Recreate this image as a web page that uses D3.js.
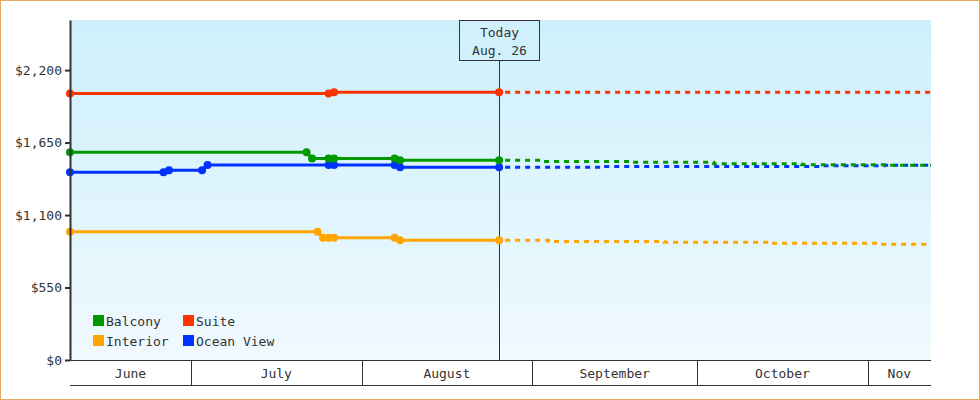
<!DOCTYPE html>
<html>
<head>
<meta charset="utf-8">
<script src="https://cdn.jsdelivr.net/npm/d3@7"></script>
<style>
  body { margin: 0; background: #fff; }
  text { font-family: "DejaVu Sans Mono", monospace; font-size: 13px; fill: #333; }
</style>
</head>
<body>
<div id="chart"></div>
<script>
// chart values
const seriesNames = ['Balcony', 'Suite', 'Interior', 'Ocean View'];
const seriesColors = ['#009900', '#ff3300', '#ffa500', '#0033ff'];

const balconyDates = ['2015-06-09', '2015-07-22', '2015-07-23', '2015-07-26', '2015-07-27', '2015-08-07', '2015-08-08', '2015-08-26'];
const balconyPrices = [1576, 1576, 1529, 1529, 1529, 1529, 1515, 1515];
const suiteDates = ['2015-06-09', '2015-07-26', '2015-07-27', '2015-08-26'];
const suitePrices = [2023, 2023, 2031, 2031];
const interiorDates = ['2015-06-09', '2015-07-24', '2015-07-25', '2015-07-26', '2015-07-27', '2015-08-07', '2015-08-08', '2015-08-26'];
const interiorPrices = [973, 973, 928, 928, 928, 928, 908, 908];
const oceanDates = ['2015-06-09', '2015-06-26', '2015-06-27', '2015-07-03', '2015-07-04', '2015-07-26', '2015-07-27', '2015-08-07', '2015-08-08', '2015-08-26'];
const oceanPrices = [1424, 1424, 1439, 1439, 1479, 1479, 1479, 1479, 1462, 1462];

// projected prices after today (dashed)
const balconyFcDates = ['2015-08-26', '2015-09-03', '2015-09-19', '2015-10-04', '2015-10-20', '2015-11-05', '2015-11-12T12:00'];
const balconyFcPrices = [1515, 1507, 1500, 1489, 1482, 1477, 1477];
const suiteFcDates = ['2015-08-26', '2015-11-12T12:00'];
const suiteFcPrices = [2031, 2031];
const interiorFcDates = ['2015-08-26', '2015-09-04', '2015-09-25', '2015-10-14', '2015-11-03', '2015-11-12T12:00'];
const interiorFcPrices = [908, 900, 893, 885, 878, 878];
const oceanFcDates = ['2015-08-26', '2015-09-14', '2015-10-24', '2015-11-04', '2015-11-12T12:00'];
const oceanFcPrices = [1462, 1469, 1474, 1477, 1477];

const yTicks = [0, 550, 1100, 1650, 2200];
const monthLabels = ['June', 'July', 'August', 'September', 'October', 'Nov'];
const todayDate = '2015-08-26';
const todayLabel = ['Today', 'Aug. 26'];
const xStart = '2015-06-09';
const xEnd = '2015-11-12T12:00';
const yMax = 2580;

// frame
const WIDTH = 980, HEIGHT = 400;
const MARGINS = {left: 70, right: 49, top: 20, bottom: 40};
const PLOT_RIGHT = WIDTH - MARGINS.right;
const PLOT_BOTTOM = HEIGHT - MARGINS.bottom;

const parse = d3.isoParse;
const zip = (dates, vals) => dates.map((d, i) => ({date: parse(d), value: vals[i]}));

const actual = [
  zip(balconyDates, balconyPrices),
  zip(suiteDates, suitePrices),
  zip(interiorDates, interiorPrices),
  zip(oceanDates, oceanPrices)
];
const forecast = [
  zip(balconyFcDates, balconyFcPrices),
  zip(suiteFcDates, suiteFcPrices),
  zip(interiorFcDates, interiorFcPrices),
  zip(oceanFcDates, oceanFcPrices)
];

const x = d3.scaleTime().domain([parse(xStart), parse(xEnd)]).range([MARGINS.left, PLOT_RIGHT]);
const y = d3.scaleLinear().domain([0, yMax]).range([PLOT_BOTTOM, MARGINS.top]);

const svg = d3.select('#chart').append('svg')
  .attr('width', WIDTH)
  .attr('height', HEIGHT);

// gradient for plot area
const grad = svg.append('defs').append('linearGradient')
  .attr('id', 'bg').attr('x1', 0).attr('y1', 0).attr('x2', 0).attr('y2', 1);
grad.append('stop').attr('offset', '0%').attr('stop-color', '#cdf0fc');
grad.append('stop').attr('offset', '100%').attr('stop-color', '#f0f9fe');

svg.append('rect')
  .attr('x', MARGINS.left).attr('y', MARGINS.top)
  .attr('width', PLOT_RIGHT - MARGINS.left).attr('height', PLOT_BOTTOM - MARGINS.top)
  .attr('fill', 'url(#bg)');

// outer border
svg.append('rect')
  .attr('x', 0.5).attr('y', 0.5)
  .attr('width', WIDTH - 1).attr('height', HEIGHT - 1)
  .attr('fill', 'none').attr('stroke', '#e8a862');

// today marker line
const tx = Math.round(x(parse(todayDate))) + 0.5;
svg.append('line')
  .attr('x1', tx).attr('x2', tx)
  .attr('y1', MARGINS.top + 40).attr('y2', PLOT_BOTTOM)
  .attr('stroke', '#333').attr('stroke-width', 1);

// series lines
const line = d3.line().x(d => x(d.date)).y(d => y(d.value));
const stepLine = d3.line().x(d => x(d.date)).y(d => y(d.value)).curve(d3.curveStepAfter);

// draw order: ocean view, interior, suite, balcony
const drawOrder = [3, 2, 1, 0];
drawOrder.forEach(i => {
  svg.append('path')
    .attr('d', stepLine(forecast[i]))
    .attr('fill', 'none')
    .attr('stroke', seriesColors[i])
    .attr('stroke-width', 3)
    .attr('stroke-dasharray', '5,5')
    .attr('stroke-dashoffset', -6);
  svg.append('path')
    .attr('d', line(actual[i]))
    .attr('fill', 'none')
    .attr('stroke', seriesColors[i])
    .attr('stroke-width', 3);
  svg.append('g').selectAll('circle')
    .data(actual[i])
    .join('circle')
    .attr('cx', d => x(d.date))
    .attr('cy', d => y(d.value))
    .attr('r', 4)
    .attr('fill', seriesColors[i]);
});

// y axis
const yAxis = svg.append('g')
  .attr('transform', `translate(${MARGINS.left},0)`)
  .call(d3.axisLeft(y).tickValues(yTicks)
    .tickFormat(d => '$' + d3.format(',')(d))
    .tickSize(5).tickSizeOuter(0).tickPadding(3));
yAxis.select('.domain').attr('stroke', '#333').attr('stroke-width', 2);
yAxis.selectAll('.tick line').attr('stroke', '#333').attr('stroke-width', 2);
yAxis.selectAll('.tick text')
  .style('font-family', '"DejaVu Sans Mono", monospace')
  .style('font-size', '13px')
  .attr('fill', '#333');

// month band under the plot
const band = svg.append('g');
const bandBottom = PLOT_BOTTOM + 25;
band.append('line')
  .attr('x1', MARGINS.left).attr('x2', PLOT_RIGHT)
  .attr('y1', PLOT_BOTTOM + 0.5).attr('y2', PLOT_BOTTOM + 0.5)
  .attr('stroke', '#333');
band.append('line')
  .attr('x1', MARGINS.left).attr('x2', PLOT_RIGHT)
  .attr('y1', bandBottom + 0.5).attr('y2', bandBottom + 0.5)
  .attr('stroke', '#333');

const monthStarts = d3.timeMonth.range(x.domain()[0], x.domain()[1]);
const bounds = [x.domain()[0], ...monthStarts, x.domain()[1]];
band.selectAll('line.sep')
  .data(monthStarts)
  .join('line')
  .attr('class', 'sep')
  .attr('x1', d => Math.round(x(d)) + 0.5).attr('x2', d => Math.round(x(d)) + 0.5)
  .attr('y1', PLOT_BOTTOM).attr('y2', bandBottom)
  .attr('stroke', '#333');
band.selectAll('text')
  .data(monthLabels)
  .join('text')
  .attr('x', (d, i) => (x(bounds[i]) + x(bounds[i + 1])) / 2)
  .attr('y', PLOT_BOTTOM + 13)
  .attr('dy', '0.35em')
  .attr('text-anchor', 'middle')
  .text(d => d);

// legend, two columns
const legend = svg.append('g').attr('transform', 'translate(93,315)');
const legendItems = legend.selectAll('g')
  .data(seriesNames)
  .join('g')
  .attr('transform', (d, i) => `translate(${(i % 2) * 90},${Math.floor(i / 2) * 20})`);
legendItems.append('rect')
  .attr('width', 11).attr('height', 11)
  .attr('fill', (d, i) => seriesColors[i]);
legendItems.append('text')
  .attr('x', 13).attr('y', 6)
  .attr('dy', '0.35em')
  .text(d => d);

// today box
const box = svg.append('g').attr('transform', `translate(${tx - 40},${MARGINS.top + 0.5})`);
box.append('rect')
  .attr('width', 80).attr('height', 40)
  .attr('fill', '#d0f1fc').attr('stroke', '#333');
box.selectAll('text')
  .data(todayLabel)
  .join('text')
  .attr('x', 40)
  .attr('y', (d, i) => 12 + i * 18)
  .attr('dy', '0.35em')
  .attr('text-anchor', 'middle')
  .text(d => d);
</script>
</body>
</html>
